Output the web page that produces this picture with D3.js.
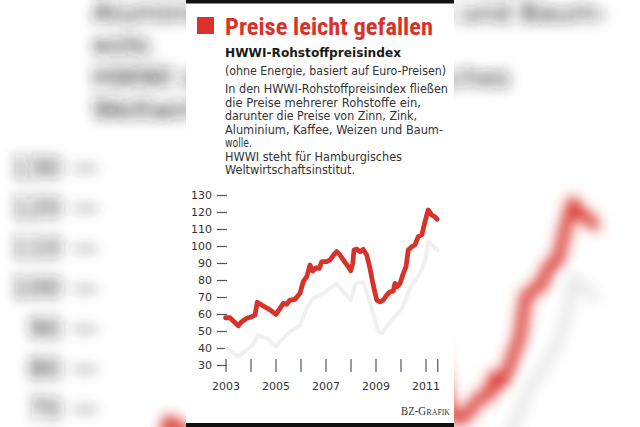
<!DOCTYPE html>
<html><head><meta charset="utf-8">
<script src="https://cdn.jsdelivr.net/npm/d3@7"></script>
<style>html,body{margin:0;padding:0;background:#fff;overflow:hidden} svg{display:block}</style>
</head><body>
<script>
// ---- data ----
const redYears = [2003.0,2003.18,2003.51,2003.65,2003.85,2004.05,2004.18,2004.27,2004.45,2004.78,2005.02,2005.18,2005.31,2005.45,2005.58,2005.78,2005.98,2006.11,2006.25,2006.38,2006.49,2006.62,2006.75,2006.85,2007.05,2007.18,2007.38,2007.45,2007.58,2007.78,2007.91,2008.01,2008.09,2008.14,2008.25,2008.38,2008.51,2008.65,2008.78,2008.91,2009.05,2009.18,2009.31,2009.45,2009.58,2009.71,2009.78,2009.87,2009.98,2010.09,2010.22,2010.31,2010.45,2010.58,2010.71,2010.85,2010.98,2011.11,2011.25,2011.38,2011.47];
const redValues = [57.8,57.8,53.1,55.5,57.5,58.4,59.4,66.9,65.3,62.4,59.8,63.3,66.3,65.7,68.2,68.6,72.2,79,82,88.8,85.3,87.2,86.8,90.8,90.8,91.8,95.7,96.7,94.7,90.4,87.8,85.5,89.8,97.6,98.2,96.6,98,94.7,86.8,77,68.2,67.2,68.2,71.2,73.1,73.5,78,76.1,78,82.9,87.8,97.6,99.6,100.6,105.5,106.5,114.3,121.2,118.2,117.2,115.7];
const greyYears = [2003.05,2003.51,2003.85,2004.11,2004.31,2004.65,2005.02,2005.31,2005.58,2005.98,2006.25,2006.51,2006.91,2007.45,2007.71,2008.01,2008.19,2008.51,2008.85,2009.11,2009.25,2009.51,2009.78,2010.05,2010.38,2010.65,2010.85,2011.02,2011.11,2011.25,2011.47];
const greyValues = [39.8,34.9,38.8,42.2,47.6,45.7,40.8,45.7,49.6,53.5,63.4,69.2,72.2,78,73.1,68.2,78,79,63.3,49.6,48.6,53.5,58.4,63.3,75.1,81,85.9,93.7,102.5,100.6,97.6];
const yTicks = [30,40,50,60,70,80,90,100,110,120,130];
const xTicks = [2003,2004,2005,2006,2007,2008,2009,2010,2011,2011.47];
const xLabels = [2003,2005,2007,2009,2011];
const title = "Preise leicht gefallen";
const subtitle = "HWWI-Rohstoffpreisindex";
const note = "(ohne Energie, basiert auf Euro-Preisen)";
const para = ["In den HWWI-Rohstoffpreisindex fließen","die Preise mehrerer Rohstoffe ein,","darunter die Preise von Zinn, Zink,","Aluminium, Kaffee, Weizen und Baum-","wolle.","HWWI steht für Hamburgisches","Weltwirtschaftsinstitut."];
const paraWidths = [223,196,192,218,27,177,130];
const source = ["BZ-G","RAFIK"];

const RED = "#d8322a";
const W = 640, H = 427;
const FONT = "'DejaVu Sans',sans-serif";
const svg = d3.select("body").append("svg").attr("width", W).attr("height", H);

const x = d3.scaleLinear().domain([2003, 2011]).range([225.5, 425.5]);
const y = d3.scaleLinear().domain([30, 130]).range([365, 195]);

const red = redYears.map((t, i) => ({t, v: redValues[i]}));
const grey = greyYears.map((t, i) => ({t, v: greyValues[i]}));
const line = d3.line().x(d => x(d.t)).y(d => y(d.v));

function draw(g, greyCol, textCol) {
  g.append("rect").attr("x", 197).attr("y", 17).attr("width", 17).attr("height", 17).attr("fill", RED);
  g.append("text").attr("x", 225).attr("y", 34.5)
    .attr("font-family", "'Liberation Sans Narrow','Roboto Condensed',Roboto,'Liberation Sans',sans-serif")
    .attr("font-weight", 700).attr("font-size", 23).attr("fill", RED)
    .attr("textLength", 208).attr("lengthAdjust", "spacingAndGlyphs").text(title);
  g.append("text").attr("x", 225).attr("y", 57)
    .attr("font-family", FONT).attr("font-weight", 700).attr("font-size", 12)
    .attr("fill", "#1a1a1a").attr("textLength", 176).attr("lengthAdjust", "spacingAndGlyphs").text(subtitle);
  g.append("text").attr("x", 225).attr("y", 75)
    .attr("font-family", FONT).attr("font-size", 11.5)
    .attr("fill", textCol).attr("textLength", 221).attr("lengthAdjust", "spacingAndGlyphs").text(note);
  g.append("g").selectAll("text").data(para).join("text")
    .attr("x", 225).attr("y", (d, i) => 93 + i * 13.58)
    .attr("font-family", FONT).attr("font-size", 11.5).attr("fill", textCol)
    .attr("textLength", (d, i) => paraWidths[i]).attr("lengthAdjust", "spacingAndGlyphs")
    .text(d => d);

  const ya = g.append("g").attr("transform", "translate(227,0)")
    .call(d3.axisLeft(y).tickValues(yTicks).tickSizeInner(10).tickSizeOuter(0).tickPadding(5));
  ya.select(".domain").remove();
  ya.selectAll("line").attr("stroke", "#555").attr("stroke-width", 1.2);
  ya.selectAll("text").attr("font-family", FONT).attr("font-size", 11).attr("fill", textCol);

  const xa = g.append("g").attr("transform", "translate(0,365)")
    .call(d3.axisBottom(x).tickValues(xTicks).tickSizeInner(7).tickSizeOuter(0).tickFormat(""));
  xa.select(".domain").remove();
  xa.selectAll("line").attr("y1", -6).attr("stroke", "#555").attr("stroke-width", 1.2);
  const xl = g.append("g").attr("transform", "translate(0,365)")
    .call(d3.axisBottom(x).tickValues(xLabels).tickSize(0).tickPadding(17).tickFormat(d3.format("d")));
  xl.select(".domain").remove();
  xl.selectAll("text").attr("font-family", FONT).attr("font-size", 11).attr("fill", textCol);

  g.append("path").datum(grey).attr("d", line).attr("fill", "none")
    .attr("stroke", greyCol).attr("stroke-width", 4).attr("stroke-linejoin", "round").attr("stroke-linecap", "round");
  g.append("path").datum(red).attr("d", line).attr("fill", "none")
    .attr("stroke", RED).attr("stroke-width", 4.8).attr("stroke-linejoin", "round").attr("stroke-linecap", "round");

  g.append("text").attr("x", 401).attr("y", 415)
    .attr("font-family", "'Liberation Serif','DejaVu Serif',serif").attr("fill", "#333").attr("font-size", 12)
    .attr("textLength", 25).attr("lengthAdjust", "spacingAndGlyphs").text(source[0]);
  g.append("text").attr("x", 426.5).attr("y", 415)
    .attr("font-family", "'Liberation Serif','DejaVu Serif',serif").attr("fill", "#333").attr("font-size", 9)
    .attr("textLength", 23.5).attr("lengthAdjust", "spacingAndGlyphs").text(source[1]);
}

// ---- blurred, enlarged background copy ----
const defs = svg.append("defs");
const f = defs.append("filter").attr("id", "blur").attr("filterUnits", "userSpaceOnUse")
  .attr("x", -100).attr("y", -100).attr("width", W + 200).attr("height", H + 200);
f.append("feGaussianBlur").attr("stdDeviation", 6.5);
const bg = svg.append("g").attr("filter", "url(#blur)");
draw(bg.append("g").attr("transform", "translate(-440,-294) scale(2.365)"), "#e4e4e4", "#222");

// ---- panel ----
svg.append("rect").attr("x", 186).attr("y", 0).attr("width", 268).attr("height", H).attr("fill", "#fff");
svg.append("rect").attr("x", 186).attr("y", 0).attr("width", 268).attr("height", 3.5).attr("fill", "#111");
svg.append("rect").attr("x", 186).attr("y", 423).attr("width", 268).attr("height", 4).attr("fill", "#111");

draw(svg.append("g"), "#f0f0f0", "#333");
</script>
</body></html>
